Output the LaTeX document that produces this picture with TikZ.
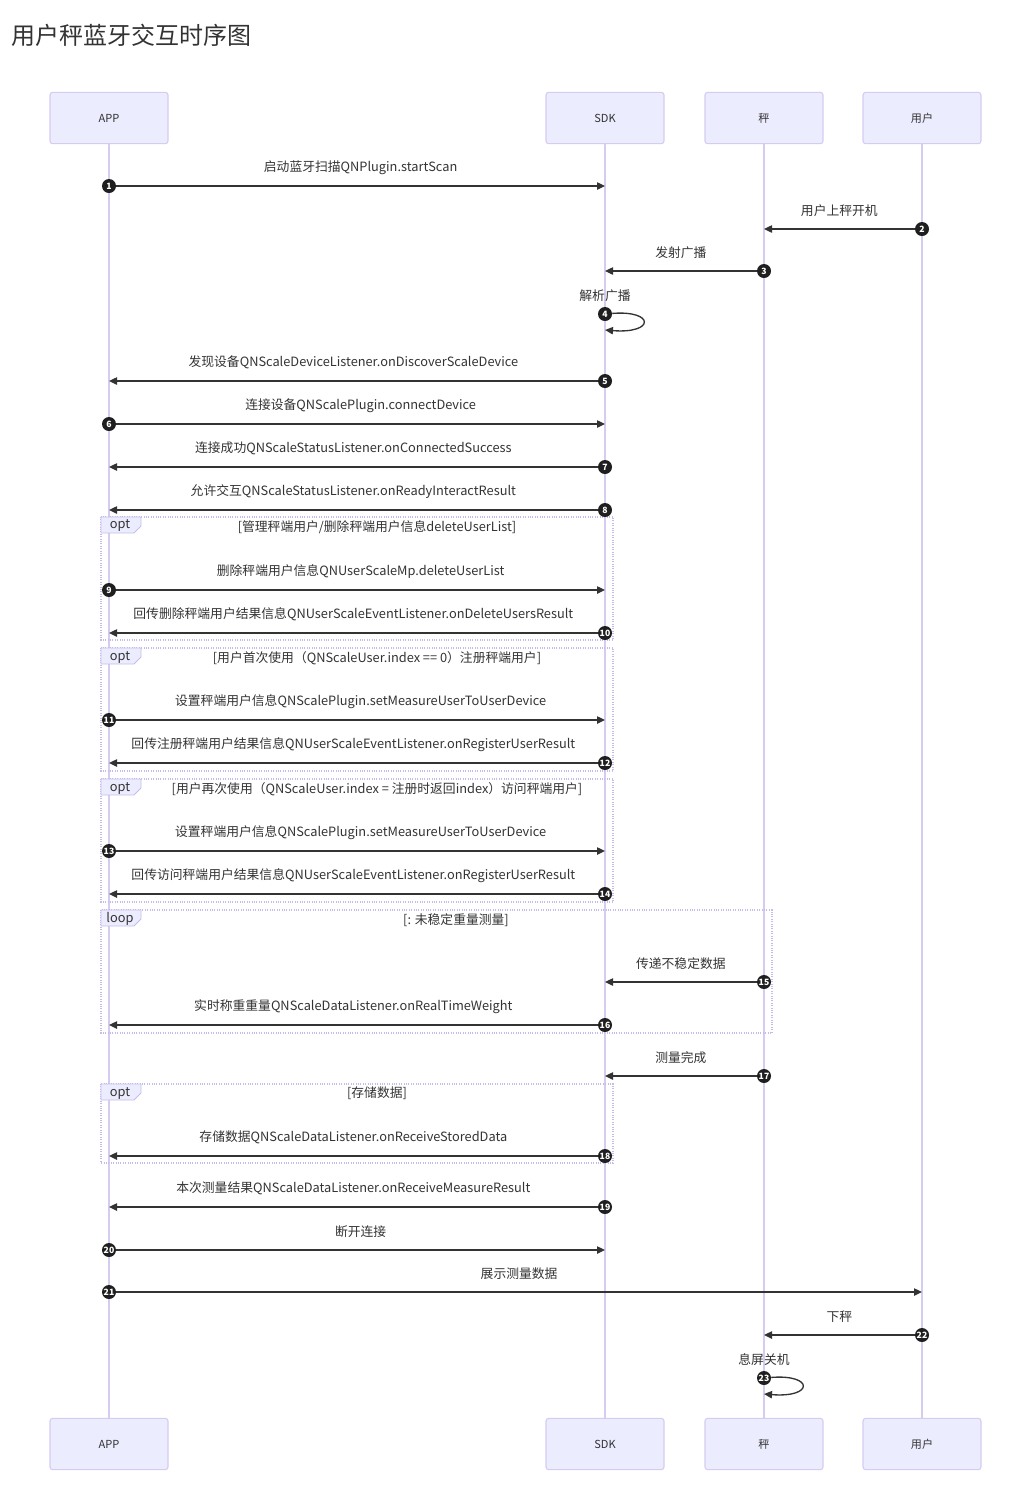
\documentclass[tikz,border=0pt]{standalone}
\usepackage{fontspec}
\setmainfont{Noto Sans CJK SC}
\usetikzlibrary{arrows.meta, positioning, calc}
\definecolor{ink}{HTML}{333333}
\definecolor{actorfill}{HTML}{ECECFF}
\definecolor{actorline}{HTML}{D6CBF1}
\definecolor{frameline}{HTML}{C6BCEB}
\tikzset{
  actor/.style={rectangle, rounded corners=2pt, draw=actorline, line width=0.8pt, fill=actorfill,
    minimum width=88.5pt, minimum height=38.5pt, font=\fontsize{8.3}{10}\selectfont, text=ink},
  lifeline/.style={draw=actorline, line width=1.1pt},
  msg/.style={draw=ink, line width=1pt, -{Triangle[length=6pt,width=5.5pt]}},
  seqnum/.style={circle, fill=ink!60!black, text=white, inner sep=0pt, minimum size=10.5pt,
    font=\fontsize{6.5}{6.5}\selectfont\bfseries},
  msgtext/.style={font=\fontsize{9.6}{11}\selectfont, text=ink},
  frame/.style={draw=frameline, densely dotted, line width=0.8pt},
  tab/.style={draw=frameline, fill=actorfill, line width=0.6pt},
  tabtext/.style={font=\fontsize{9.6}{11}\selectfont, text=ink}
}

\begin{document}
\begin{tikzpicture}[x=0.75pt, y=-0.75pt]
\useasboundingbox (0,0) rectangle (1032,1486);

% Title
\node[anchor=west, font=\fontsize{18}{22}\selectfont, text=ink] (title) at (7,35) {用户秤蓝牙交互时序图};

% Actors, top row
\node[actor] (appT) at (109,118) {APP};
\node[actor] (sdkT) at (605,118) {SDK};
\node[actor] (scaleT) at (764,118) {秤};
\node[actor] (userT) at (922,118) {用户};

% Actors, bottom row
\node[actor] (appB) at (109,1444) {APP};
\node[actor] (sdkB) at (605,1444) {SDK};
\node[actor] (scaleB) at (764,1444) {秤};
\node[actor] (userB) at (922,1444) {用户};

% Lifelines
\draw[lifeline] (appT.south) -- (appB.north);
\draw[lifeline] (sdkT.south) -- (sdkB.north);
\draw[lifeline] (scaleT.south) -- (scaleB.north);
\draw[lifeline] (userT.south) -- (userB.north);

% Frames
\draw[frame] (101,517) rectangle (613,640);
\draw[tab] (101,517) -- (141,517) -- (141,526) -- (134,533) -- (101,533) -- cycle;
\node[tabtext] (opt1) at (120,526) {opt};
\node[tabtext] (cond1) at (377,527) {[管理秤端用户/删除秤端用户信息deleteUserList]};

\draw[frame] (101,648) rectangle (613,771);
\draw[tab] (101,648) -- (141,648) -- (141,657) -- (134,664) -- (101,664) -- cycle;
\node[tabtext] (opt2) at (120,657) {opt};
\node[tabtext] (cond2) at (377,658) {[用户首次使用（QNScaleUser.index == 0）注册秤端用户]};

\draw[frame] (101,779) rectangle (613,902);
\draw[tab] (101,779) -- (141,779) -- (141,788) -- (134,795) -- (101,795) -- cycle;
\node[tabtext] (opt3) at (120,788) {opt};
\node[tabtext] (cond3) at (377,789) {[用户再次使用（QNScaleUser.index = 注册时返回index）访问秤端用户]};

\draw[frame] (101,910) rectangle (772,1033);
\draw[tab] (101,910) -- (141,910) -- (141,919) -- (134,926) -- (101,926) -- cycle;
\node[tabtext] (loop1) at (120,919) {loop};
\node[tabtext] (cond4) at (456,920) {[: 未稳定重量测量]};

\draw[frame] (101,1084) rectangle (613,1163);
\draw[tab] (101,1084) -- (141,1084) -- (141,1093) -- (134,1100) -- (101,1100) -- cycle;
\node[tabtext] (opt4) at (120,1093) {opt};
\node[tabtext] (cond5) at (377,1093) {[存储数据]};

% Messages
\node[seqnum] (n1) at (109,186) {1};
\coordinate (t1) at (605,186);
\draw[msg] (n1) -- (t1) node[msgtext, midway, yshift=14pt] {启动蓝牙扫描QNPlugin.startScan};

\node[seqnum] (n2) at (922,229) {2};
\coordinate (t2) at (764,229);
\draw[msg] (n2) -- (t2) node[msgtext, midway, yshift=14pt] {用户上秤开机};

\node[seqnum] (n3) at (764,271) {3};
\coordinate (t3) at (605,271);
\draw[msg] (n3) -- (t3) node[msgtext, midway, yshift=14pt] {发射广播};

\node[seqnum] (n4) at (605,314) {4};
\coordinate (t4) at (605,330);
\draw[msg] (n4) .. controls +(50,-4) and +(50,4) .. (t4);
\node[msgtext, yshift=14pt] (l4) at (605,314) {解析广播};

\node[seqnum] (n5) at (605,381) {5};
\coordinate (t5) at (109,381);
\draw[msg] (n5) -- (t5) node[msgtext, midway, yshift=14pt] {发现设备QNScaleDeviceListener.onDiscoverScaleDevice};

\node[seqnum] (n6) at (109,424) {6};
\coordinate (t6) at (605,424);
\draw[msg] (n6) -- (t6) node[msgtext, midway, yshift=14pt] {连接设备QNScalePlugin.connectDevice};

\node[seqnum] (n7) at (605,467) {7};
\coordinate (t7) at (109,467);
\draw[msg] (n7) -- (t7) node[msgtext, midway, yshift=14pt] {连接成功QNScaleStatusListener.onConnectedSuccess};

\node[seqnum] (n8) at (605,510) {8};
\coordinate (t8) at (109,510);
\draw[msg] (n8) -- (t8) node[msgtext, midway, yshift=14pt] {允许交互QNScaleStatusListener.onReadyInteractResult};

\node[seqnum] (n9) at (109,590) {9};
\coordinate (t9) at (605,590);
\draw[msg] (n9) -- (t9) node[msgtext, midway, yshift=14pt] {删除秤端用户信息QNUserScaleMp.deleteUserList};

\node[seqnum] (n10) at (605,633) {10};
\coordinate (t10) at (109,633);
\draw[msg] (n10) -- (t10) node[msgtext, midway, yshift=14pt] {回传删除秤端用户结果信息QNUserScaleEventListener.onDeleteUsersResult};

\node[seqnum] (n11) at (109,720) {11};
\coordinate (t11) at (605,720);
\draw[msg] (n11) -- (t11) node[msgtext, midway, yshift=14pt] {设置秤端用户信息QNScalePlugin.setMeasureUserToUserDevice};

\node[seqnum] (n12) at (605,763) {12};
\coordinate (t12) at (109,763);
\draw[msg] (n12) -- (t12) node[msgtext, midway, yshift=14pt] {回传注册秤端用户结果信息QNUserScaleEventListener.onRegisterUserResult};

\node[seqnum] (n13) at (109,851) {13};
\coordinate (t13) at (605,851);
\draw[msg] (n13) -- (t13) node[msgtext, midway, yshift=14pt] {设置秤端用户信息QNScalePlugin.setMeasureUserToUserDevice};

\node[seqnum] (n14) at (605,894) {14};
\coordinate (t14) at (109,894);
\draw[msg] (n14) -- (t14) node[msgtext, midway, yshift=14pt] {回传访问秤端用户结果信息QNUserScaleEventListener.onRegisterUserResult};

\node[seqnum] (n15) at (764,982) {15};
\coordinate (t15) at (605,982);
\draw[msg] (n15) -- (t15) node[msgtext, midway, yshift=14pt] {传递不稳定数据};

\node[seqnum] (n16) at (605,1025) {16};
\coordinate (t16) at (109,1025);
\draw[msg] (n16) -- (t16) node[msgtext, midway, yshift=14pt] {实时称重重量QNScaleDataListener.onRealTimeWeight};

\node[seqnum] (n17) at (764,1076) {17};
\coordinate (t17) at (605,1076);
\draw[msg] (n17) -- (t17) node[msgtext, midway, yshift=14pt] {测量完成};

\node[seqnum] (n18) at (605,1156) {18};
\coordinate (t18) at (109,1156);
\draw[msg] (n18) -- (t18) node[msgtext, midway, yshift=14pt] {存储数据QNScaleDataListener.onReceiveStoredData};

\node[seqnum] (n19) at (605,1207) {19};
\coordinate (t19) at (109,1207);
\draw[msg] (n19) -- (t19) node[msgtext, midway, yshift=14pt] {本次测量结果QNScaleDataListener.onReceiveMeasureResult};

\node[seqnum] (n20) at (109,1250) {20};
\coordinate (t20) at (605,1250);
\draw[msg] (n20) -- (t20) node[msgtext, midway, yshift=14pt] {断开连接};

\node[seqnum] (n21) at (109,1292) {21};
\coordinate (t21) at (922,1292);
\draw[msg] (n21) -- (t21) node[msgtext, midway, yshift=14pt] {展示测量数据};

\node[seqnum] (n22) at (922,1335) {22};
\coordinate (t22) at (764,1335);
\draw[msg] (n22) -- (t22) node[msgtext, midway, yshift=14pt] {下秤};

\node[seqnum] (n23) at (764,1378) {23};
\coordinate (t23) at (764,1394);
\draw[msg] (n23) .. controls +(50,-4) and +(50,4) .. (t23);
\node[msgtext, yshift=14pt] (l23) at (764,1378) {息屏关机};

\end{tikzpicture}
\end{document}
